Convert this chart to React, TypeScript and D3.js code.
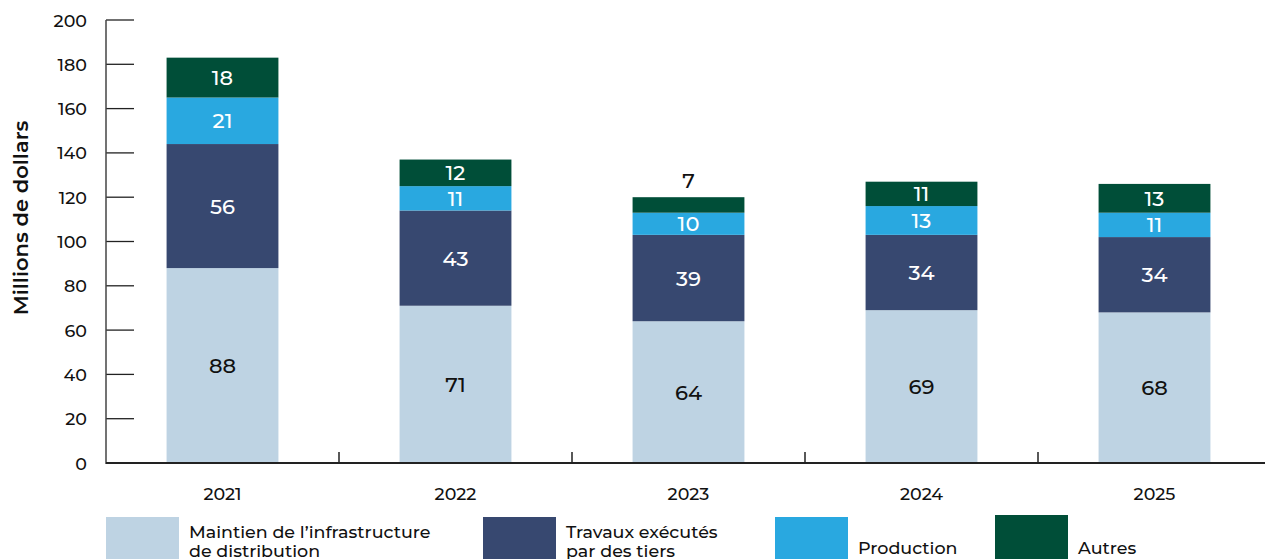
import React from "react";
import * as d3 from "d3";

const years = ["2021", "2022", "2023", "2024", "2025"];
const maintien = [88, 71, 64, 69, 68];
const travaux = [56, 43, 39, 34, 34];
const production = [21, 11, 10, 13, 11];
const autres = [18, 12, 7, 11, 13];
const yTicks = [0, 20, 40, 60, 80, 100, 120, 140, 160, 180, 200];

const seriesNames = [
  ["Maintien de l\u2019infrastructure", "de distribution"],
  ["Travaux exécutés", "par des tiers"],
  ["Production"],
  ["Autres"],
];
const colors = ["#BED3E3", "#374870", "#29A8E0", "#004E38"];
const labelColors = ["#111", "#fff", "#fff", "#fff"];

const W = 1265;
const H = 559;
const FONT = "Montserrat, 'Noto Sans', 'Open Sans', sans-serif";

export default function App() {
  const series = [maintien, travaux, production, autres];
  const rows = years.map((y, i) => ({
    year: y,
    s0: maintien[i],
    s1: travaux[i],
    s2: production[i],
    s3: autres[i],
  }));
  const stack = d3.stack<any>().keys(["s0", "s1", "s2", "s3"])(rows);

  const x = d3
    .scaleBand<string>()
    .domain(years)
    .range([106, 1271])
    .paddingInner(0.52)
    .paddingOuter(0.26);
  const y = d3.scaleLinear().domain([0, 200]).range([463, 20]);
  const step = x.step();
  const bandStart = 106;

  const legendX = [106, 483, 775, 995];

  return (
    <svg
      width={W}
      height={H}
      style={{ position: "absolute", left: 0, top: 0, fontFamily: FONT }}
    >
      <rect width={W} height={H} fill="#fff" />
      {/* y ticks */}
      {yTicks.map((t) => (
        <g key={t}>
          <line x1={106} x2={134} y1={y(t)} y2={y(t)} stroke="#222" strokeWidth={1.3} />
          <text
            x={87}
            y={y(t)}
            textAnchor="end"
            dominantBaseline="central"
            fontSize={17.5}
            fontWeight={500}
            fill="#111"
          >
            {t}
          </text>
        </g>
      ))}
      <line x1={106} x2={106} y1={20} y2={464} stroke="#444" strokeWidth={1.5} />
      <text
        transform={`translate(20,218) rotate(-90)`}
        textAnchor="middle"
        dominantBaseline="central"
        fontSize={21}
        fontWeight={600}
        fill="#111"
      >
        Millions de dollars
      </text>
      {/* bars */}
      {stack.map((layer, si) => (
        <g key={si}>
          {layer.map((d: any, i: number) => {
            const yr = years[i];
            const x0 = x(yr)!;
            const top = y(d[1]);
            const bot = y(d[0]);
            const val = series[si][i];
            const small = bot - top < 20;
            return (
              <g key={yr}>
                <rect x={x0} y={top} width={x.bandwidth()} height={bot - top} fill={colors[si]} />
                <text
                  x={x0 + x.bandwidth() / 2}
                  y={small ? top - 17 : (top + bot) / 2}
                  textAnchor="middle"
                  dominantBaseline="central"
                  fontSize={21}
                  fontWeight={500}
                  fill={small ? "#111" : labelColors[si]}
                >
                  {val}
                </text>
              </g>
            );
          })}
        </g>
      ))}
      {/* x axis */}
      <line x1={106} x2={1265} y1={463} y2={463} stroke="#222" strokeWidth={2} />
      {years.slice(1).map((yr, i) => (
        <line
          key={yr}
          x1={bandStart + step * (i + 1)}
          x2={bandStart + step * (i + 1)}
          y1={452}
          y2={463}
          stroke="#222"
          strokeWidth={1.5}
        />
      ))}
      {years.map((yr) => (
        <text
          key={yr}
          x={x(yr)! + x.bandwidth() / 2}
          y={493}
          textAnchor="middle"
          dominantBaseline="central"
          fontSize={17.5}
          fontWeight={500}
          fill="#111"
        >
          {yr}
        </text>
      ))}
      {/* legend */}
      {seriesNames.map((name, i) => (
        <g key={i}>
          <rect x={legendX[i]} y={i === 3 ? 515 : 517} width={73} height={48} fill={colors[i]} />
          {name.length === 2 ? (
            <>
              <text x={legendX[i] + 83} y={531} dominantBaseline="central" fontSize={17.5} fontWeight={500} fill="#111">
                {name[0]}
              </text>
              <text x={legendX[i] + 83} y={550} dominantBaseline="central" fontSize={17.5} fontWeight={500} fill="#111">
                {name[1]}
              </text>
            </>
          ) : (
            <text x={legendX[i] + 83} y={547} dominantBaseline="central" fontSize={17.5} fontWeight={500} fill="#111">
              {name[0]}
            </text>
          )}
        </g>
      ))}
    </svg>
  );
}
